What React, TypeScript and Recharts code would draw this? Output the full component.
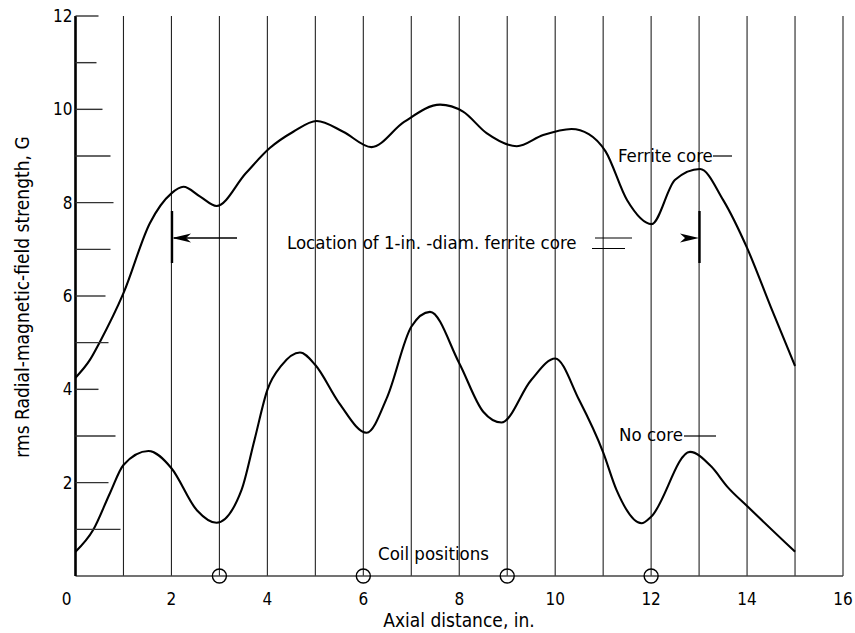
import React from 'react';
import { LineChart, Line, XAxis, YAxis, CartesianGrid, ReferenceDot } from 'recharts';

const ferriteX = [0, 0.3, 0.5, 1.0, 1.55, 2.0, 2.25, 2.6, 2.94, 3.55, 4.05, 4.54, 5.03, 5.58, 6.17, 6.85, 7.6, 8.08, 8.57, 9.2, 9.75, 10.34, 10.7, 11.05, 11.5, 12.01, 12.5, 13.02, 13.5, 14.0, 14.5, 15.0];
const ferriteY = [4.25, 4.63, 5.0, 6.06, 7.56, 8.2, 8.34, 8.13, 7.93, 8.63, 9.17, 9.52, 9.75, 9.52, 9.19, 9.73, 10.1, 9.95, 9.49, 9.21, 9.45, 9.58, 9.47, 9.1, 8.05, 7.54, 8.49, 8.72, 8.06, 7.03, 5.75, 4.5];

const noCoreX = [0, 0.37, 0.72, 1.0, 1.52, 2.0, 2.53, 2.94, 3.46, 3.73, 4.0, 4.3, 4.68, 5.0, 5.5, 6.07, 6.5, 7.0, 7.39, 8.0, 8.5, 8.88, 9.5, 10.0, 10.5, 11.0, 11.28, 11.8, 12.0, 12.81, 13.25, 13.6, 14.0, 15.0];
const noCoreY = [0.52, 0.99, 1.78, 2.38, 2.68, 2.31, 1.41, 1.14, 1.84, 2.91, 3.99, 4.52, 4.79, 4.52, 3.7, 3.07, 3.84, 5.34, 5.66, 4.56, 3.52, 3.29, 4.2, 4.66, 3.77, 2.65, 1.84, 1.13, 1.27, 2.66, 2.35, 1.9, 1.5, 0.52];

const coilPositions = [3, 6, 9, 12];
const xTicks = [0, 1, 2, 3, 4, 5, 6, 7, 8, 9, 10, 11, 12, 13, 14, 15, 16];
const xLabels = [0, 2, 4, 6, 8, 10, 12, 14, 16];
const yTicks = [1, 2, 3, 4, 5, 6, 7, 8, 9, 10, 11, 12];
const yLabels = [2, 4, 6, 8, 10, 12];

const ferriteData = ferriteX.map((x, i) => ({ x, y: ferriteY[i] }));
const noCoreData = noCoreX.map((x, i) => ({ x, y: noCoreY[i] }));

const FONT = "'DejaVu Sans Condensed', 'DejaVu Sans', sans-serif";
const tickLen: Record<number, number> = { 1: 45, 2: 33, 3: 40, 4: 23, 5: 33, 6: 30, 7: 35, 8: 38, 9: 35, 10: 27, 11: 21, 12: 23 };

const XTick = (props: any) => {
  const { x, y, payload } = props;
  const v = payload.value;
  if (!xLabels.includes(v)) return null;
  const dx = v === 0 ? -9 : 0;
  return (
    <text x={x + dx} y={y + 29} textAnchor="middle" fontFamily={FONT} fontSize={17} fill="#000">
      {v}
    </text>
  );
};

const YTick = (props: any) => {
  const { x, y, payload } = props;
  const v = payload.value;
  return (
    <g>
      <line x1={x} x2={x + (tickLen[v] || 25)} y1={y} y2={y} stroke="#333" strokeWidth={1.4} />
      {yLabels.includes(v) && (
        <text x={x - 3} y={y + 6} textAnchor="end" fontFamily={FONT} fontSize={17} fill="#000">
          {v}
        </text>
      )}
    </g>
  );
};

export default function App() {
  return (
    <div style={{ position: 'relative', width: 855, height: 633, background: '#fff' }}>
      <style>{'html{overflow:hidden;} body{margin:0;padding:0;}'}</style>
      <div style={{ position: 'absolute', left: 8, top: 8, width: 847, height: 625 }}>
        <LineChart width={847} height={625} margin={{ top: 8, right: 12, left: 0, bottom: 0 }}>
          <CartesianGrid horizontal={false} vertical={true} stroke="#222" strokeWidth={1.1} />
          <XAxis
            type="number"
            dataKey="x"
            domain={[0, 16]}
            ticks={xTicks}
            interval={0}
            height={57}
            tickLine={false}
            tickSize={0}
            tickMargin={0}
            tick={<XTick />}
            axisLine={{ stroke: '#444', strokeWidth: 1.6 }}
            allowDataOverflow
          />
          <YAxis
            type="number"
            dataKey="y"
            domain={[0, 12]}
            ticks={yTicks}
            interval={0}
            width={67.5}
            tickLine={false}
            tickSize={0}
            tickMargin={0}
            tick={<YTick />}
            axisLine={{ stroke: '#000', strokeWidth: 2.6 }}
            allowDataOverflow
          />
          <Line data={ferriteData} dataKey="y" type="monotone" stroke="#000" strokeWidth={2.1} dot={false} isAnimationActive={false} />
          <Line data={noCoreData} dataKey="y" type="monotone" stroke="#000" strokeWidth={2.1} dot={false} isAnimationActive={false} />
          {coilPositions.map((c) => (
            <ReferenceDot key={c} x={c} y={0} r={7} fill="none" stroke="#000" strokeWidth={1.4} ifOverflow="visible" />
          ))}
        </LineChart>
        <svg width={847} height={625} style={{ position: 'absolute', left: 0, top: 0, pointerEvents: 'none' }}>
          <text x={14} y={289} transform="rotate(-90 14 289)" textAnchor="middle" dominantBaseline="central" fontFamily={FONT} fontSize={19} fill="#000">
            rms Radial-magnetic-field strength, G
          </text>
          <text x={451} y={619} textAnchor="middle" fontFamily={FONT} fontSize={19} fill="#000">
            Axial distance, in.
          </text>
          <text x={610} y={154} fontFamily={FONT} fontSize={18.5} fill="#000">Ferrite core</text>
          <line x1={705} x2={724} y1={148} y2={148} stroke="#000" strokeWidth={1.2} />
          <text x={611} y={433} fontFamily={FONT} fontSize={18.5} fill="#000">No core</text>
          <line x1={676} x2={708} y1={428} y2={428} stroke="#000" strokeWidth={1.2} />
          <text x={370} y={552} fontFamily={FONT} fontSize={18.5} fill="#000">Coil positions</text>
          <text x={279} y={241} fontFamily={FONT} fontSize={18.5} fill="#000">Location of 1-in. -diam. ferrite core</text>
          <line x1={587} x2={624} y1={230} y2={230} stroke="#000" strokeWidth={1.2} />
          <line x1={584} x2={617} y1={240.5} y2={240.5} stroke="#000" strokeWidth={1.2} />
          <line x1={166} x2={229} y1={230} y2={230} stroke="#000" strokeWidth={1.3} />
          <polygon points="164,230 183,225.5 178,230 183,234.5" fill="#000" />
          <line x1={164} x2={164} y1={203} y2={255} stroke="#000" strokeWidth={2.4} />
          <polygon points="691,230 672,225.5 677,230 672,234.5" fill="#000" />
          <line x1={691.5} x2={691.5} y1={203} y2={255} stroke="#000" strokeWidth={2.4} />
        </svg>
      </div>
    </div>
  );
}
